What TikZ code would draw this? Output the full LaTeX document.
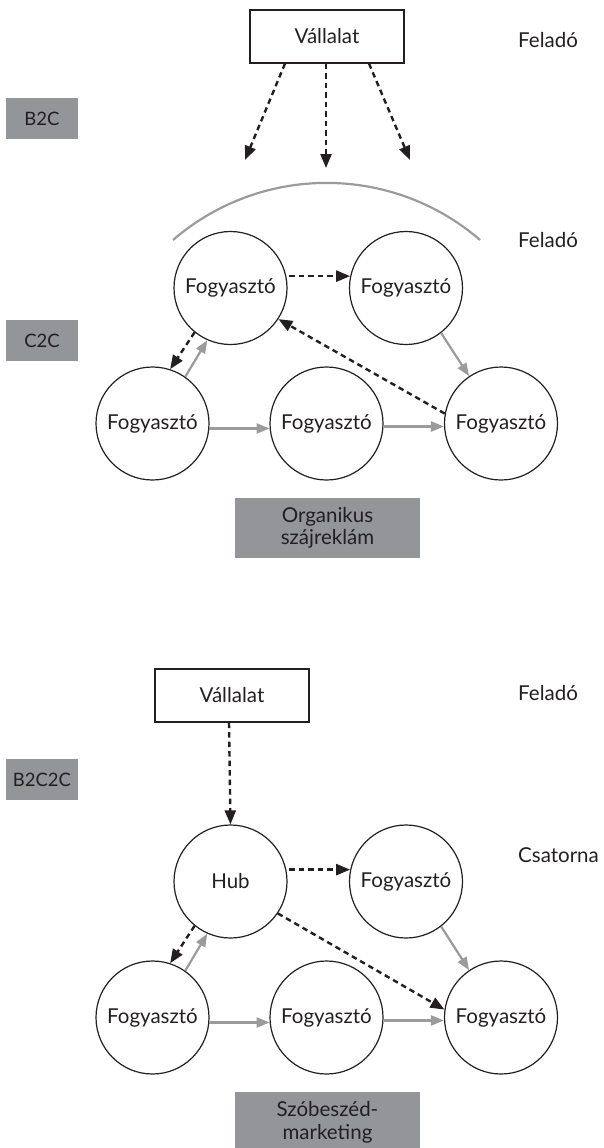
\documentclass[tikz,border=0pt]{standalone}
\usepackage{fontspec}
\setmainfont{Lato}
\usetikzlibrary{arrows.meta}
\definecolor{ink}{HTML}{231F20}
\definecolor{tagfill}{HTML}{939598}
\definecolor{flow}{HTML}{9B9B9B}
\newcommand{\labelsize}{\fontsize{20.5}{23}\selectfont}
\tikzset{
  every node/.style={text=ink},
  person/.style={circle, draw=ink, line width=1.2pt, minimum size=113pt, inner sep=0pt, font=\labelsize},
  firm/.style={draw=ink, line width=1.2pt, minimum width=154pt, minimum height=53pt, inner sep=0pt, font=\labelsize},
  tag/.style={fill=tagfill, minimum width=72pt, minimum height=41pt, inner sep=0pt, font=\fontsize{18.5}{21}\selectfont},
  caption/.style={fill=tagfill, minimum width=185pt, inner sep=0pt, align=center, font=\fontsize{20.5}{22.5}\selectfont},
  role/.style={anchor=west, inner sep=0pt, font=\labelsize},
  push/.style={draw=ink, line width=2.4pt, dash pattern=on 5.5pt off 4pt, -{Triangle[length=14pt,width=11pt]}},
  pass/.style={draw=flow, line width=2.2pt, -{Triangle[length=13pt,width=10pt]}},
  reach/.style={draw=flow, line width=2.2pt}
}
\begin{document}
\begin{tikzpicture}[x=1pt,y=1pt]
\useasboundingbox (0,0) rectangle (603,-1148);

% ---------- organic word of mouth ----------
\node[firm] (v1) at (327,-36.5) {Vállalat};
\node[role] (s1) at (518,-40) {Feladó};
\node[role] (s2) at (518,-240) {Feladó};
\node[tag] (b2c) at (42,-118.5) {B2C};
\node[tag] (c2c) at (42,-340.5) {C2C};

\coordinate (d1) at (245,-160);
\coordinate (d2) at (326,-168);
\coordinate (d3) at (410,-160);
\draw[push] ([xshift=-42pt]v1.south) -- (d1);
\draw[push] ([xshift=-1pt]v1.south) -- (d2);
\draw[push] ([xshift=42pt]v1.south) -- (d3);

% audience arc
\draw[reach] (173,-240) arc[start angle=130.8, end angle=49.2, radius=235];

\node[person] (a1) at (230.5,-288) {Fogyasztó};
\node[person] (a2) at (406,-288) {Fogyasztó};
\node[person] (a3) at (152.5,-423.5) {Fogyasztó};
\node[person] (a4) at (326.5,-423.5) {Fogyasztó};
\node[person] (a5) at (501,-423.5) {Fogyasztó};

\draw[push, shorten <=3pt] (a1.12) -- (a2.168);
\draw[push] (a5.170.5) -- (a1.-33);
\draw[push] (a1.231.7) -- (a3.72.5);
\draw[pass] (a3.55.4) -- (a1.246.6);
\draw[pass] (a2.-52) -- (a5.124.3);
\draw[pass] (a3.-5.5) -- (a4.185.5);
\draw[pass] (a4.-3.5) -- (a5.183.5);

\node[caption, minimum height=60pt] (c1) at (327.5,-528) {Organikus\\szájreklám};

% ---------- hub-driven word of mouth ----------
\node[firm] (v2) at (232,-695.5) {Vállalat};
\node[role] (s3) at (518,-693) {Feladó};
\node[role] (s4) at (518,-855) {Csatorna};
\node[tag] (b2c2c) at (42,-779.5) {B2C2C};

\node[person] (h) at (230.5,-881.5) {Hub};
\node[person] (b2) at (406,-881.5) {Fogyasztó};
\node[person] (b3) at (152.5,-1017.5) {Fogyasztó};
\node[person] (b4) at (326.5,-1017.5) {Fogyasztó};
\node[person] (b5) at (501,-1017.5) {Fogyasztó};

\draw[push] ([xshift=-3pt]v2.south) -- (h.north);
\draw[push, shorten <=3pt] (h.12) -- (b2.168);
\draw[push] (h.-34.6) -- (b5.172.4);
\draw[push] (h.231.7) -- (b3.72.5);
\draw[pass] (b3.55.4) -- (h.246.6);
\draw[pass] (b2.-52) -- (b5.124.3);
\draw[pass] (b3.-5.5) -- (b4.185.5);
\draw[pass] (b4.-3.5) -- (b5.183.5);

\node[caption, minimum height=60pt, anchor=north] (c2) at (327.5,-1092) {Szóbeszéd-\\marketing};
\end{tikzpicture}
\end{document}
